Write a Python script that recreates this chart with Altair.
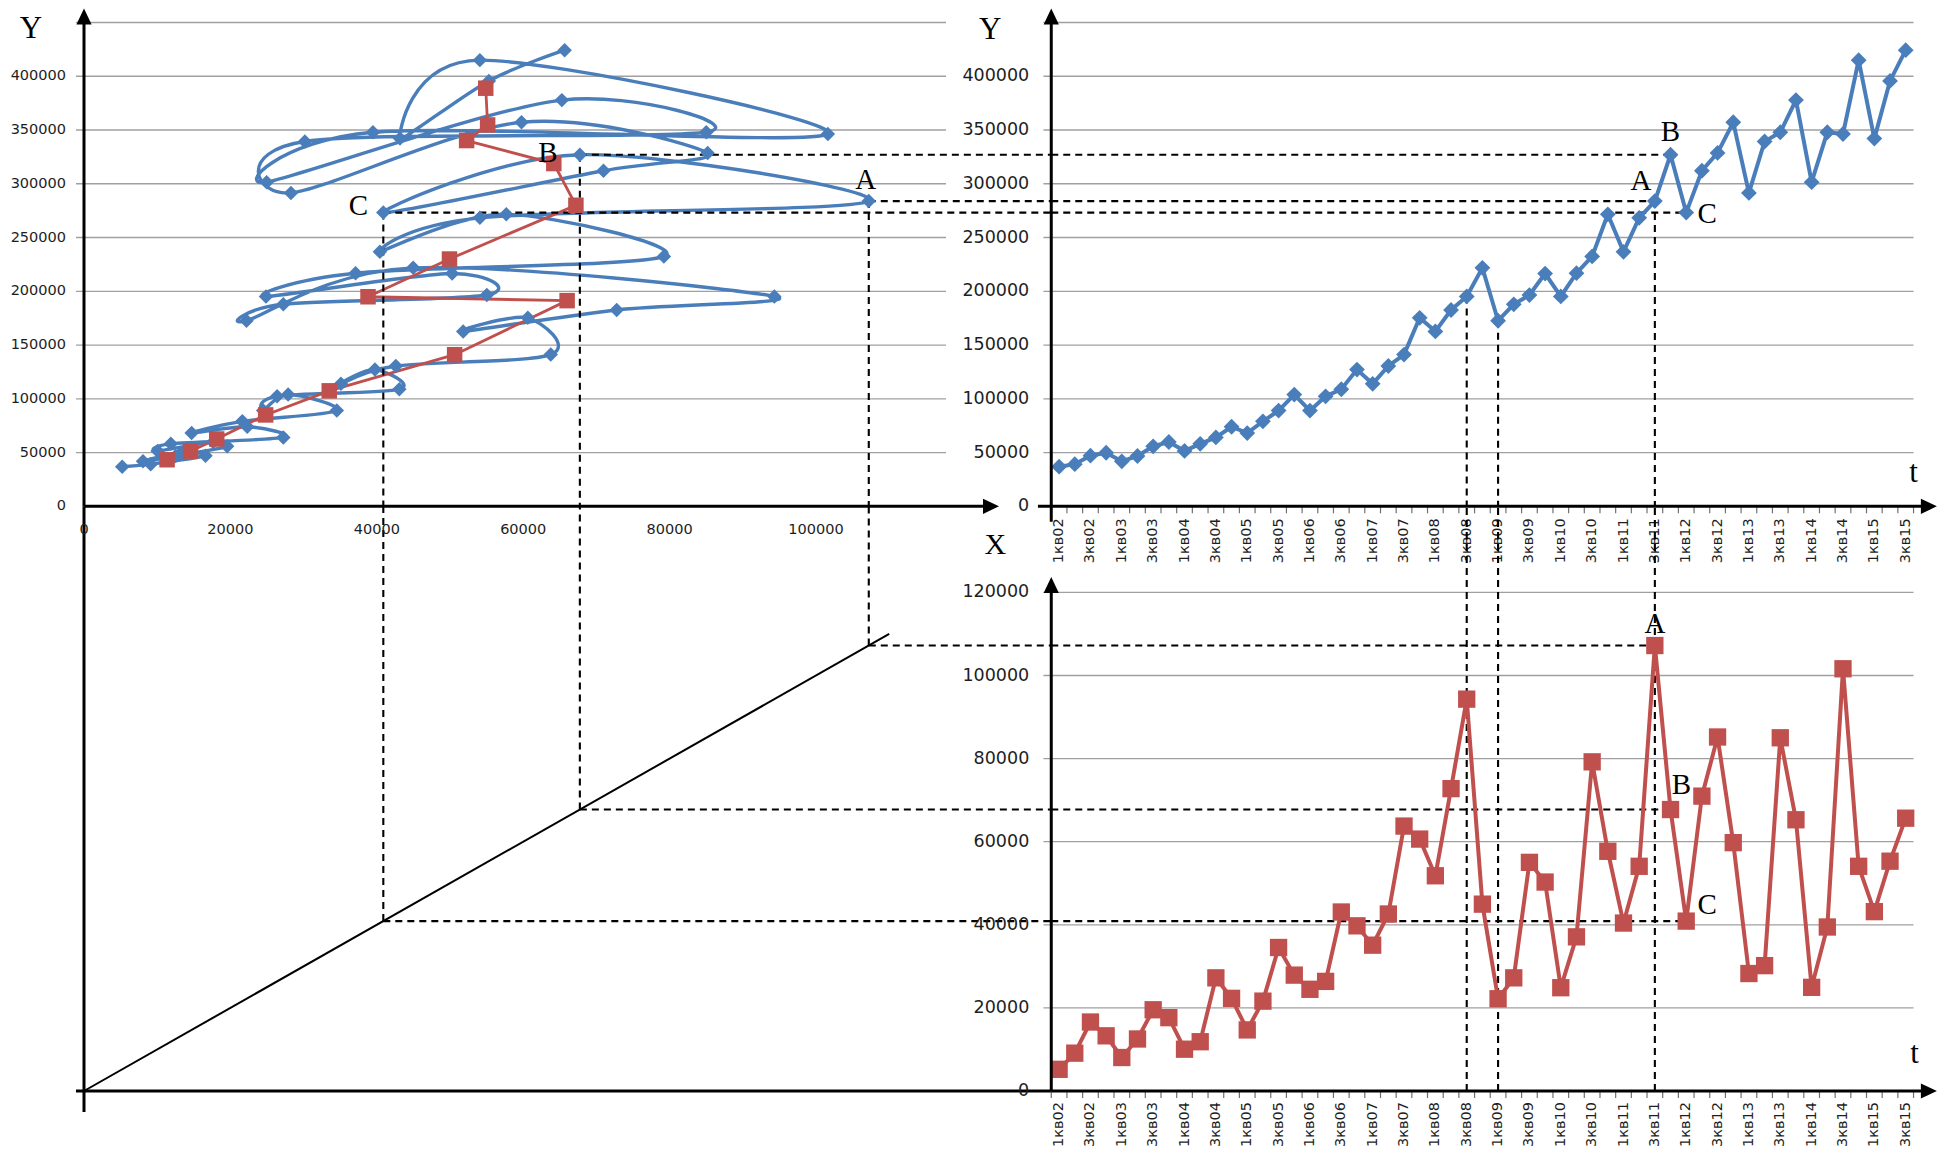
import altair as alt
import pandas as pd

# ---------------- values ----------------
quarter_names = [f"{q}кв{y:02d}" for y in range(2, 16) for q in (1, 2, 3, 4)][:55]

Y_values = [36850, 39200, 47100, 49800, 41800, 46800, 55800, 59800, 51500, 58100,
            64100, 74000, 68100, 79000, 89000, 103900, 89000, 102300, 108900, 127200,
            113900, 130500, 141100, 175300, 162700, 182600, 195200, 221800, 172600, 187900,
            196500, 216500, 195200, 216800, 232400, 271600, 236700, 268300, 283900, 327000,
            273200, 312100, 328700, 357200, 291500, 339300, 347900, 377800, 301500, 347900,
            346300, 415000, 342000, 395700, 424300]

X_values = [5220, 9110, 16600, 13280, 8060, 12520, 19550, 17650, 10060, 11860,
            27230, 22300, 14700, 21630, 34540, 27890, 24480, 26380, 43080, 39750,
            35100, 42600, 63760, 60630, 51800, 72770, 94310, 44970, 22200, 27230,
            55030, 50290, 24860, 37100, 79220, 57690, 40420, 54080, 107210, 67740,
            40890, 70970, 85200, 59770, 28270, 30170, 85010, 65280, 24950, 39470,
            101620, 54080, 43170, 55310, 65660]

annual_X = [11350, 14560, 18130, 24820, 33500, 50630, 66000, 38800, 49930, 67200,
            64180, 52270, 55140, 54880]
annual_Y = [43300, 51300, 62600, 85000, 107400, 141000, 191300, 194900, 230000, 280000,
            318800, 340200, 354700, 388900]

marked_letters = ["A", "B", "C"]
marked_index = [38, 39, 40]          # 3кв11, 4кв11, 1кв12
drop_index = [26, 28, 38]            # 3кв08, 1кв09, 3кв11

tl_x_ticks = [0, 20000, 40000, 60000, 80000, 100000]
y_ticks = [0, 50000, 100000, 150000, 200000, 250000, 300000, 350000, 400000]
y_grid = [50000, 100000, 150000, 200000, 250000, 300000, 350000, 400000, 450000]
xv_ticks = [0, 20000, 40000, 60000, 80000, 100000, 120000]
xv_grid = [20000, 40000, 60000, 80000, 100000, 120000]
t_label_index = list(range(0, 55, 2))
t_tick_pos = [i - 0.5 for i in range(56)]

# ---------------- styles and layout ----------------
BLUE = "#4a7ebb"
RED = "#c0504d"
GRID = "#a0a0a0"
INK = "#1e1e1e"
SANS = "DejaVu Sans"
SERIF = "Liberation Serif"
W, H = 1930, 1141

S_XH = alt.Scale(domain=[0, 100000], range=[76, 808], nice=False, zero=False)
S_Y = alt.Scale(domain=[0, 450000], range=[498.3, 14.5], nice=False, zero=False)
S_XV = alt.Scale(domain=[0, 120000], range=[1083, 584.4], nice=False, zero=False)
S_T = alt.Scale(domain=[0, 54], range=[1051.1, 1897.7], nice=False, zero=False)

XH_MID = 132140     # middle vertical axis on the horizontal X scale
XV_MID = 140720     # top panels' baseline on the vertical X scale
T_AXIS = -0.5
Y_TIP = 463000
XH_TIP = 125000
T_TIP = 55.99
XV_TIP = 123700

ARROW_R = "M0,0L-2,-0.95L-2,0.95Z"
ARROW_U = "M0,0L-0.95,2L0.95,2Z"
DASH = dict(color="black", strokeWidth=2.1, strokeDash=[7, 5])
AXIS = dict(color="black", strokeWidth=3)


def pos(xs, ys, x, y, x2=None, y2=None):
    e = {"x": alt.X(f"{x}:Q", scale=xs, axis=None),
         "y": alt.Y(f"{y}:Q", scale=ys, axis=None)}
    if x2:
        e["x2"] = alt.X2(f"{x2}:Q")
    if y2:
        e["y2"] = alt.Y2(f"{y2}:Q")
    return e


def frame(**cols):
    n = max(len(v) for v in cols.values() if isinstance(v, list))
    return pd.DataFrame({k: (v if isinstance(v, list) else [v] * n) for k, v in cols.items()})


ser = frame(i=list(range(55)), X=X_values, Y=Y_values, q=quarter_names)
ann = frame(i=list(range(len(annual_X))), X=annual_X, Y=annual_Y)
mk = frame(k=marked_letters, t=marked_index,
           X=[X_values[i] for i in marked_index], Y=[Y_values[i] for i in marked_index],
           xmid=XH_MID, tax=T_AXIS, zero=0, vmid=XV_MID)
drops = frame(t=drop_index, Y=[Y_values[i] for i in drop_index], zero=0, vmid=XV_MID)
tlab = frame(t=t_label_index, q=[quarter_names[i] for i in t_label_index], zero=0)
tticks = frame(t=t_tick_pos, zero=0)


def arrow(xs, ys, x, y, shape):
    return alt.Chart(frame(x=[x], y=[y])).mark_point(
        shape=shape, size=256, filled=True, color="black", opacity=1, strokeWidth=0
    ).encode(**pos(xs, ys, "x", "y"))


def line_seg(xs, ys, style, x, y, x2=None, y2=None):
    cols = dict(x=[x], y=[y])
    if x2 is not None:
        cols["x2"] = [x2]
    if y2 is not None:
        cols["y2"] = [y2]
    return alt.Chart(frame(**cols)).mark_rule(**style).encode(
        **pos(xs, ys, "x", "y", x2="x2" if x2 is not None else None, y2="y2" if y2 is not None else None))


def letter(xs, ys, x, y, label, dx, dy, size=29):
    return alt.Chart(frame(x=[x], y=[y], s=[label])).mark_text(
        font=SERIF, fontSize=size, color="black", align="center", baseline="middle", dx=dx, dy=dy
    ).encode(**pos(xs, ys, "x", "y"), text="s:N")


letter_offsets = {
    "TL": {"A": (-3, -21), "B": (-32, -2), "C": (-25, -7)},
    "TR": {"A": (-14, -20), "B": (0, -23), "C": (21, 1)},
    "BR": {"A": (0, -22), "B": (11, -25), "C": (21, -16)},
}

# ---------------- top-left: phase plane X-Y ----------------
tl = [
    alt.Chart(frame(y=y_grid, a=-1100, b=117760)).mark_rule(color=GRID, strokeWidth=1.3)
    .encode(**pos(S_XH, S_Y, "a", "y", x2="b")),
    alt.Chart(ser).mark_line(interpolate="cardinal", color=BLUE, strokeWidth=3.4)
    .encode(**pos(S_XH, S_Y, "X", "Y"), order="i:Q"),
    alt.Chart(ann).mark_line(color=RED, strokeWidth=2.8)
    .encode(**pos(S_XH, S_Y, "X", "Y"), order="i:Q"),
    alt.Chart(mk).mark_rule(**DASH).encode(**pos(S_XH, S_Y, "X", "Y", x2="xmid")),
    alt.Chart(mk).mark_rule(**DASH).encode(**pos(S_XH, S_Y, "X", "Y", y2="zero")),
    alt.Chart(ser).mark_point(shape="diamond", filled=True, size=210, color=BLUE, opacity=1)
    .encode(**pos(S_XH, S_Y, "X", "Y")),
    alt.Chart(ann).mark_square(size=240, color=RED, opacity=1)
    .encode(**pos(S_XH, S_Y, "X", "Y")),
    alt.Chart(frame(v=y_ticks, s=[str(v) for v in y_ticks], z=0)).mark_text(
        font=SANS, fontSize=14.5, color=INK, align="right", baseline="middle", dx=-18)
    .encode(**pos(S_XH, S_Y, "z", "v"), text="s:N"),
    alt.Chart(frame(v=tl_x_ticks, s=[str(v) for v in tl_x_ticks], z=0)).mark_text(
        font=SANS, fontSize=14.5, color=INK, align="center", baseline="middle", dy=24)
    .encode(**pos(S_XH, S_Y, "v", "z"), text="s:N"),
    line_seg(S_XH, S_Y, AXIS, 0, 0, x2=XH_TIP - 1100),
    line_seg(S_XH, S_Y, AXIS, 0, 0, y2=Y_TIP - 7400),
    arrow(S_XH, S_Y, XH_TIP, 0, ARROW_R),
    arrow(S_XH, S_Y, 0, Y_TIP, ARROW_U),
    letter(S_XH, S_Y, 0, 450000, "Y", -53, 6, 31),
]
for L, i in zip(marked_letters, marked_index):
    dx, dy = letter_offsets["TL"][L]
    tl.append(letter(S_XH, S_Y, X_values[i], Y_values[i], L, dx, dy))

# ---------------- bottom-left: transfer diagonal ----------------
bl = [
    alt.Chart(frame(a=[0, 110000])).mark_line(color="black", strokeWidth=2)
    .encode(**pos(S_XH, S_XV, "a", "a")),
    alt.Chart(mk).mark_rule(**DASH).encode(**pos(S_XH, S_XV, "X", "X", y2="vmid")),
    alt.Chart(mk).mark_rule(**DASH).encode(**pos(S_XH, S_XV, "X", "X", x2="xmid")),
    line_seg(S_XH, S_XV, AXIS, -1100, 0, x2=XH_MID),
    line_seg(S_XH, S_XV, AXIS, 0, -5050, y2=XV_MID),
]

# ---------------- top-right: Y(t) ----------------
tr = [
    alt.Chart(frame(y=y_grid, a=-1.0, b=54.5)).mark_rule(color=GRID, strokeWidth=1.3)
    .encode(**pos(S_T, S_Y, "a", "y", x2="b")),
    alt.Chart(mk).mark_rule(**DASH).encode(**pos(S_T, S_Y, "tax", "Y", x2="t")),
    alt.Chart(drops).mark_rule(**DASH).encode(**pos(S_T, S_Y, "t", "Y", y2="zero")),
    alt.Chart(ser).mark_line(color=BLUE, strokeWidth=4)
    .encode(**pos(S_T, S_Y, "i", "Y"), order="i:Q"),
    alt.Chart(ser).mark_point(shape="diamond", filled=True, size=250, color=BLUE, opacity=1)
    .encode(**pos(S_T, S_Y, "i", "Y")),
    alt.Chart(frame(v=y_ticks, s=[str(v) for v in y_ticks], z=T_AXIS)).mark_text(
        font=SANS, fontSize=17.5, color=INK, align="right", baseline="middle", dx=-22)
    .encode(**pos(S_T, S_Y, "z", "v"), text="s:N"),
    alt.Chart(tlab).mark_text(font=SANS, fontSize=14.5, color=INK, angle=270,
                              align="right", baseline="middle", dx=-12)
    .encode(**pos(S_T, S_Y, "t", "zero"), text="q:N"),
    alt.Chart(tticks).mark_tick(orient="vertical", size=7, thickness=1.2, color="#333333", yOffset=3.5)
    .encode(**pos(S_T, S_Y, "t", "zero")),
    line_seg(S_T, S_Y, AXIS, -1.35, 0, x2=T_TIP - 0.5),
    line_seg(S_T, S_Y, AXIS, T_AXIS, -14300, y2=Y_TIP - 7400),
    arrow(S_T, S_Y, T_TIP, 0, ARROW_R),
    arrow(S_T, S_Y, T_AXIS, Y_TIP, ARROW_U),
    letter(S_T, S_Y, T_AXIS, 450000, "Y", -61, 7, 31),
    letter(S_T, S_Y, 54.5, 0, "t", 0, -33, 31),
]
for L, i in zip(marked_letters, marked_index):
    dx, dy = letter_offsets["TR"][L]
    tr.append(letter(S_T, S_Y, i, Y_values[i], L, dx, dy))

# ---------------- bottom-right: X(t) ----------------
br = [
    alt.Chart(frame(y=xv_grid, a=-1.0, b=54.5)).mark_rule(color=GRID, strokeWidth=1.3)
    .encode(**pos(S_T, S_XV, "a", "y", x2="b")),
    alt.Chart(mk).mark_rule(**DASH).encode(**pos(S_T, S_XV, "tax", "X", x2="t")),
    alt.Chart(drops).mark_rule(**DASH).encode(**pos(S_T, S_XV, "t", "zero", y2="vmid")),
    alt.Chart(ser).mark_line(color=RED, strokeWidth=4)
    .encode(**pos(S_T, S_XV, "i", "X"), order="i:Q"),
    alt.Chart(ser).mark_square(size=300, color=RED, opacity=1)
    .encode(**pos(S_T, S_XV, "i", "X")),
    alt.Chart(frame(v=xv_ticks, s=[str(v) for v in xv_ticks], z=T_AXIS)).mark_text(
        font=SANS, fontSize=17.5, color=INK, align="right", baseline="middle", dx=-22)
    .encode(**pos(S_T, S_XV, "z", "v"), text="s:N"),
    alt.Chart(tlab).mark_text(font=SANS, fontSize=14.5, color=INK, angle=270,
                              align="right", baseline="middle", dx=-11)
    .encode(**pos(S_T, S_XV, "t", "zero"), text="q:N"),
    alt.Chart(tticks).mark_tick(orient="vertical", size=7, thickness=1.2, color="#333333", yOffset=3.5)
    .encode(**pos(S_T, S_XV, "t", "zero")),
    line_seg(S_T, S_XV, AXIS, T_AXIS, 0, x2=T_TIP - 0.5),
    line_seg(S_T, S_XV, AXIS, T_AXIS, 0, y2=XV_TIP - 1900),
    arrow(S_T, S_XV, T_TIP, 0, ARROW_R),
    arrow(S_T, S_XV, T_AXIS, XV_TIP, ARROW_U),
    letter(S_T, S_XV, T_AXIS, 120000, "X", -56, -47, 30),
    letter(S_T, S_XV, 54.5, 0, "t", 1, -37, 31),
]
for L, i in zip(marked_letters, marked_index):
    dx, dy = letter_offsets["BR"][L]
    br.append(letter(S_T, S_XV, i, X_values[i], L, dx, dy))

chart = (
    alt.layer(alt.layer(*bl), alt.layer(*tl), alt.layer(*tr), alt.layer(*br))
    .resolve_scale(x="independent", y="independent")
    .properties(width=W, height=H, autosize=alt.AutoSizeParams(type="none"), padding=0,
                background="white")
    .configure_view(stroke=None)
)

chart.save("out.html", embed_options={"renderer": "svg", "actions": False})
